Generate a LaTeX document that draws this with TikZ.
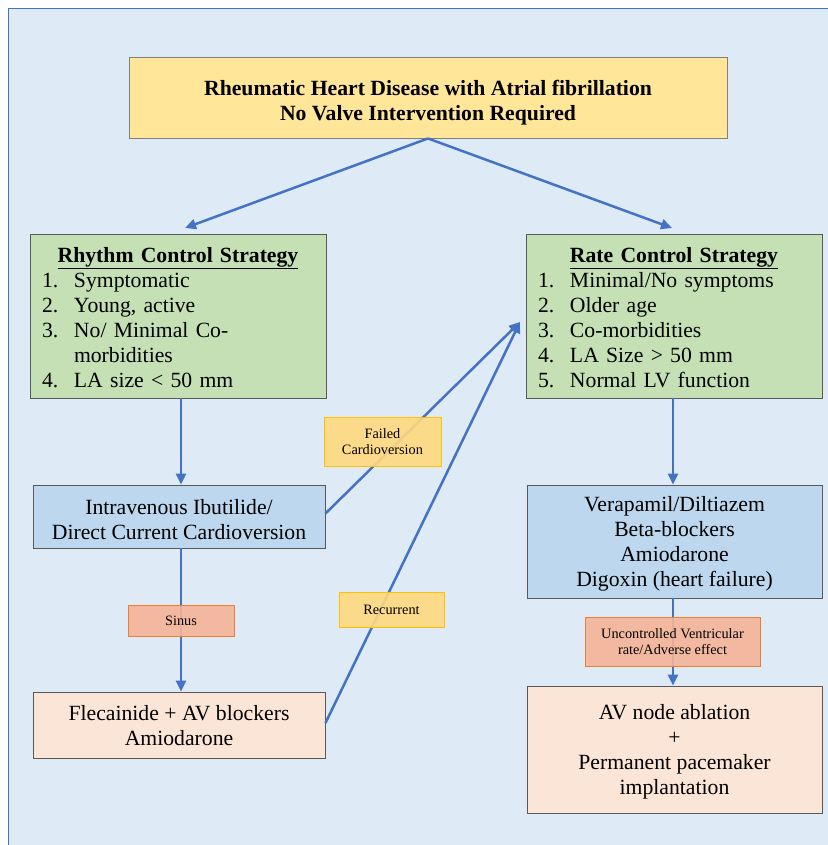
\documentclass[tikz,border=0pt]{standalone}
\usepackage{fontspec}
\setmainfont{Liberation Serif}
\usetikzlibrary{arrows.meta,calc}
\definecolor{bgblue}{HTML}{DEEAF6}
\definecolor{frameblue}{HTML}{4472C4}
\definecolor{titlefill}{HTML}{FFE699}
\definecolor{greenfill}{HTML}{C5E0B4}
\definecolor{bluefill}{HTML}{BDD7EE}
\definecolor{peachfill}{HTML}{FBE5D6}
\definecolor{goldfill}{HTML}{FFD97F}
\definecolor{goldline}{HTML}{FFC000}
\definecolor{salmonfill}{HTML}{F6B497}
\definecolor{salmonline}{HTML}{ED7D31}
\definecolor{boxline}{HTML}{595959}
\newcommand{\bigtxt}{\fontsize{21.7}{25}\selectfont}
\newcommand{\smalltxt}{\fontsize{14.3}{16.5}\selectfont}
\tikzset{
  box/.style={draw=boxline, line width=0.9pt, inner sep=0pt},
  txt/.style={inner sep=0pt, align=center, font=\bigtxt},
  listtxt/.style={inner sep=0pt, text width=272pt, font=\bigtxt},
  goldlabel/.style={draw=goldline, line width=0.8pt, fill=goldfill, fill opacity=0.9, text opacity=1, inner sep=0pt, align=center, font=\smalltxt},
  salmonlabel/.style={draw=salmonline, line width=0.8pt, fill=salmonfill, fill opacity=0.9, text opacity=1, inner sep=0pt, align=center, font=\smalltxt},
  arr/.style={draw=frameblue, line width=2.5pt, -{Triangle[length=11pt,width=10pt]}}
}
\begin{document}
\begin{tikzpicture}[x=1pt,y=-1pt]
\useasboundingbox (0,0) rectangle (827,845);
\fill[white] (0,0) rectangle (827,845);
\draw[frameblue, line width=1.5pt, fill=bgblue] (8.5,8.5) rectangle (840,860);

% main boxes (shapes)
\node[box, fill=titlefill, draw=gray, minimum width=598pt, minimum height=81pt] (titlebox) at (428,97.5) {};
\node[box, fill=greenfill, minimum width=296pt, minimum height=164pt] (rhythm) at (178,316) {};
\node[box, fill=greenfill, minimum width=296pt, minimum height=164pt] (rate) at (674,316) {};
\node[box, fill=bluefill, minimum width=292pt, minimum height=63pt] (iv) at (179,516.5) {};
\node[box, fill=peachfill, minimum width=292pt, minimum height=66pt] (flec) at (179,725) {};
\node[box, fill=bluefill, minimum width=295pt, minimum height=113pt] (vera) at (674.5,541.5) {};
\node[box, fill=peachfill, minimum width=295pt, minimum height=127pt] (avn) at (674.5,749.5) {};

% box texts
\node[txt] (titletext) at ([yshift=-5pt]titlebox.center)
  {\textbf{Rheumatic Heart Disease with Atrial fibrillation}\\\textbf{No Valve Intervention Required}};

\node[listtxt] (rhythmtext) at ([yshift=-5pt]rhythm.center) {%
  {\centering\textbf{\underline{Rhythm Control Strategy}}\par}\noindent
  \begin{tabular}{@{}p{32pt}@{}l@{}}
  1. & Symptomatic\\
  2. & Young, active\\
  3. & No/ Minimal Co-\\
     & morbidities\\
  4. & LA size {<} 50 mm
  \end{tabular}};

\node[listtxt] (ratetext) at ([yshift=-5pt]rate.center) {%
  {\centering\textbf{\underline{Rate Control Strategy}}\par}\noindent
  \begin{tabular}{@{}p{32pt}@{}l@{}}
  1. & Minimal/No symptoms\\
  2. & Older age\\
  3. & Co-morbidities\\
  4. & LA Size {>} 50 mm\\
  5. & Normal LV function
  \end{tabular}};

\node[txt] (ivtext) at ([yshift=-3pt]iv.center) {Intravenous Ibutilide/\\Direct Current Cardioversion};
\node[txt] (flectext) at ([yshift=-1pt]flec.center) {Flecainide + AV blockers\\Amiodarone};
\node[txt] (veratext) at ([yshift=-2pt]vera.center) {Verapamil/Diltiazem\\Beta-blockers\\Amiodarone\\Digoxin (heart failure)};
\node[txt] (avntext) at ([yshift=-2pt]avn.center) {AV node ablation\\+\\Permanent pacemaker\\implantation};

% connector end points
\coordinate (rhythmIn) at (185,228);
\coordinate (rateIn) at (672,228);
\coordinate (rateSide) at (520,322);

% connectors
\draw[arr] (titlebox.south) -- (rhythmIn);
\draw[arr] (titlebox.south) -- (rateIn);
\draw[arr] ([xshift=3pt]rhythm.south) -- ([xshift=2pt]iv.north);
\draw[arr] ([xshift=-1pt]rate.south) -- ([xshift=-1.5pt]vera.north);
\draw[arr] ([xshift=2pt]iv.south) -- ([xshift=2pt]flec.north);
\draw[arr] ([xshift=-1.5pt]vera.south) -- ([xshift=-1.5pt]avn.north);
\draw[arr] ([yshift=3pt]iv.east) -- (rateSide);
\draw[arr] ([yshift=2pt]flec.east) -- (rateSide);

% labels
\node[goldlabel, minimum width=117pt, minimum height=49pt] (failed) at (382.5,441.5) {Failed\\Cardioversion};
\node[goldlabel, minimum width=105pt, minimum height=35pt] (recur) at (391.5,609.5) {Recurrent};
\node[salmonlabel, minimum width=106pt, minimum height=31pt] (sinus) at (181,620.5) {Sinus};
\node[salmonlabel, minimum width=175pt, minimum height=49pt] (uncont) at (672.5,641.5) {Uncontrolled Ventricular\\rate/Adverse effect};
\end{tikzpicture}
\end{document}
